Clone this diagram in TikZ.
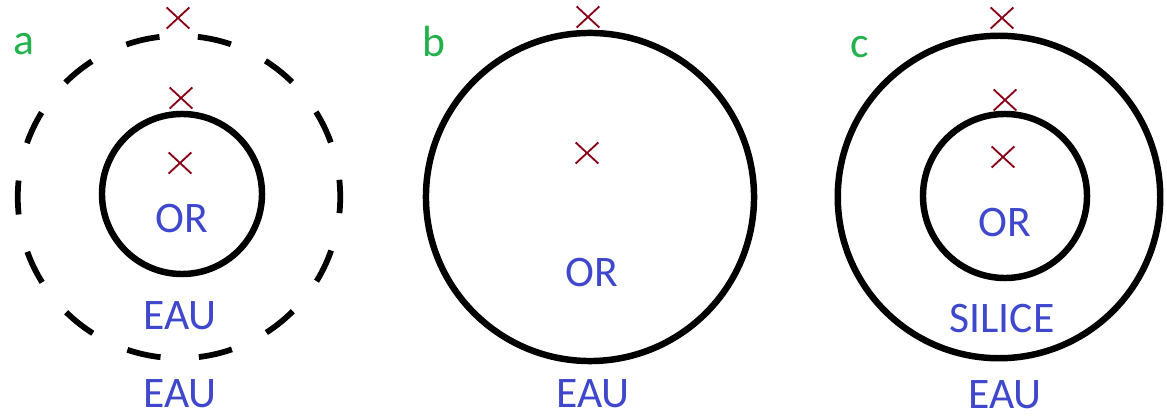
\documentclass[tikz,border=0pt]{standalone}
\usepackage{fontspec}
\setmainfont{Carlito}
\usetikzlibrary{shapes.misc}
\definecolor{paintgreen}{RGB}{34,177,76}
\definecolor{paintblue}{RGB}{63,72,204}
\definecolor{paintred}{RGB}{136,0,21}

\begin{document}
\begin{tikzpicture}[x=0.025cm, y=-0.025cm,
  ring/.style={draw=black, line width=4.6pt},
  dashring/.style={draw=black, line width=4.1pt, dash pattern=on 0.85cm off 0.96cm, dash phase=0.42cm},
  xpoint/.style={cross out, draw=paintred, line width=1.3pt, minimum width=0.52cm, minimum height=0.48cm, inner sep=0pt},
  phase/.style={text=paintblue, anchor=base, font=\fontsize{31}{31}\selectfont},
  tag/.style={text=paintgreen, anchor=base, font=\fontsize{31}{31}\selectfont}]
\useasboundingbox (0,0) rectangle (1167,418);

% Panel a
\node[tag] (tagA) at (24,55) {a};
\draw[dashring] (179,197) circle[radius=4.03cm];
\draw[ring] (182,194) circle[radius=2.0cm];
\node[xpoint] (xA1) at (178,18) {};
\node[xpoint] (xA2) at (181,98) {};
\node[xpoint] (xA3) at (180,163) {};
\node[phase] (orA) at (182,233) {OR};
\node[phase] (eauA1) at (180,330) {EAU};
\node[phase] (eauA2) at (180,408) {EAU};

% Panel b
\node[tag] (tagB) at (434,57) {b};
\draw[ring] (590,197) circle[radius=4.1cm];
\node[xpoint] (xB1) at (588,17) {};
\node[xpoint] (xB2) at (587,153) {};
\node[phase] (orB) at (592,287) {OR};
\node[phase] (eauB) at (593,408) {EAU};

% Panel c
\node[tag] (tagC) at (860,58) {c};
\draw[ring] (999,197) circle[radius=4.03cm];
\draw[ring] (1005,196) circle[radius=2.05cm];
\node[xpoint] (xC1) at (1002,18) {};
\node[xpoint] (xC2) at (1005,100) {};
\node[xpoint] (xC3) at (1003,157) {};
\node[phase] (orC) at (1005,237) {OR};
\node[phase] (silC) at (1002,333) {SILICE};
\node[phase] (eauC) at (1005,409) {EAU};
\end{tikzpicture}
\end{document}
